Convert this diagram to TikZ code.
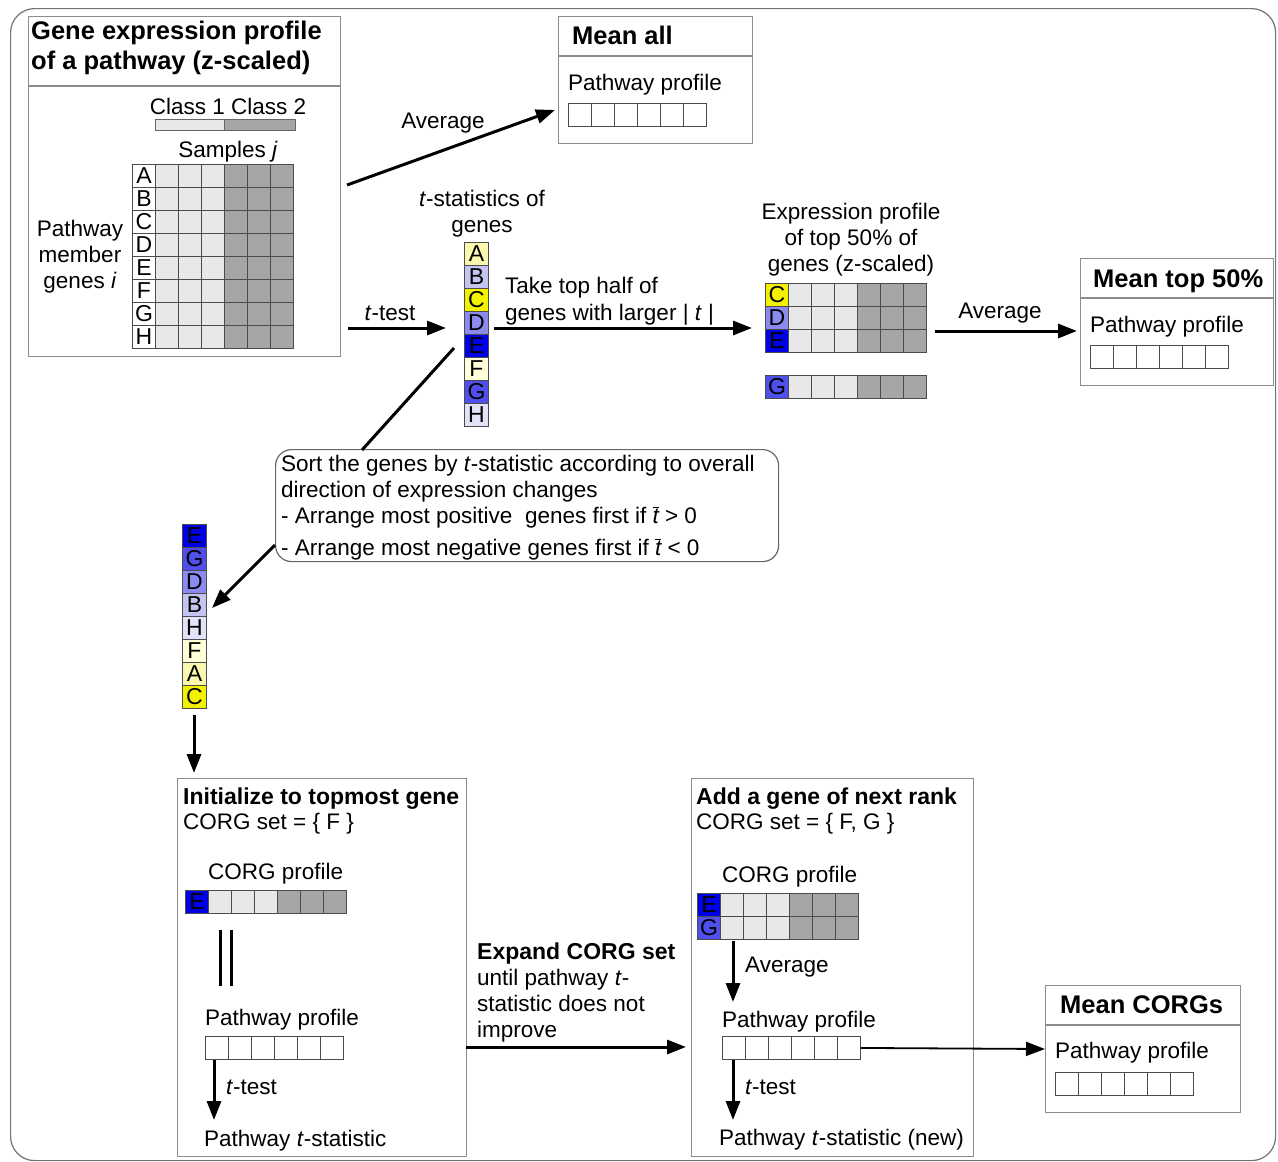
\documentclass[tikz,border=0pt]{standalone}
\usepackage{fontspec}
\setmainfont{Liberation Sans}
\usetikzlibrary{arrows.meta}
\definecolor{cA}{HTML}{FAF7AE}
\definecolor{cB}{HTML}{C4C4F2}
\definecolor{cC}{HTML}{F2F200}
\definecolor{cD}{HTML}{8A8AF0}
\definecolor{cE}{HTML}{0000E6}
\definecolor{cF}{HTML}{FFFFD9}
\definecolor{cG}{HTML}{4F4FEB}
\definecolor{cH}{HTML}{E2E2F8}
\definecolor{lite}{HTML}{E8E8E8}
\definecolor{dark}{HTML}{A6A6A6}
\definecolor{framec}{HTML}{8C8C8C}
\newcommand\profrow[3]{\foreach \c in {0,...,5}{\node[cell,fill=white] (#1\c) at ({#2+23*\c},#3) {};}}
\newcommand\generow[5]{%
  \node[cell,fill=#5] (#1) at (#2,#3) {#4};
  \foreach \c in {1,2,3}{\node[cell,fill=lite] (#1\c) at ({#2+23*\c},#3) {};}
  \foreach \c in {4,5,6}{\node[cell,fill=dark] (#1\c) at ({#2+23*\c},#3) {};}}
\newcommand\tbar{$\overline{\mbox{\itshape t}}$}
\begin{document}
\begin{tikzpicture}[x=1pt,y=-1pt,
  txt/.style={inner sep=0pt, anchor=base west, yshift=-8.5pt, font=\fontsize{22.5}{26}\selectfont},
  ctxt/.style={inner sep=0pt, align=center, yshift=-2pt, font=\fontsize{22.5}{26}\selectfont},
  ttl/.style={inner sep=0pt, anchor=base west, yshift=-9.5pt, font=\fontsize{25.5}{30}\selectfont\bfseries},
  sttl/.style={inner sep=0pt, anchor=base west, yshift=-8.5pt, font=\fontsize{23}{26}\selectfont\bfseries},
  frame/.style={draw=framec, line width=1.4pt},
  boxnode/.style={frame, inner sep=0pt, anchor=north west},
  cell/.style={draw=black!70, line width=0.9pt, minimum width=23pt, minimum height=23pt, inner sep=0pt, anchor=north west, font=\fontsize{23}{23}\selectfont},
  arr/.style={line width=3pt, -{Triangle[length=19pt,width=14pt]}},
  ln/.style={line width=3pt}]
\useasboundingbox (0,0) rectangle (1278,1162);
% outer frame
\node[draw=black!55, line width=1.2pt, rounded corners=24pt, minimum width=1265pt, minimum height=1152pt, inner sep=0pt, anchor=north west] (outer) at (10,8) {};

% ---------- Box 1: gene expression profile ----------
\node[boxnode, minimum width=312pt, minimum height=340pt] (box1) at (28,16) {};
\draw[frame] (28,86) -- (340,86);
\node[ttl] (t1a) at (31,30) {Gene expression profile};
\node[ttl] (t1b) at (31,60) {of a pathway (z-scaled)};
\node[ctxt] (cls) at (228,104) {Class 1 Class 2};
\node[draw=black!60, line width=0.9pt, fill=lite, minimum width=69pt, minimum height=11pt, inner sep=0pt, anchor=north west] (cl1) at (155,119) {};
\node[draw=black!60, line width=0.9pt, fill=dark, minimum width=71pt, minimum height=11pt, inner sep=0pt, anchor=north west] (cl2) at (224,119) {};
\node[ctxt] (smp) at (228,150) {Samples \textit{j}};
\node[ctxt] (pmg) at (80,255) {Pathway\\member\\genes \textit{i}};
\foreach \L [count=\i from 0] in {A,B,C,D,E,F,G,H}{
  \generow{m\L}{132}{164+23*\i}{\L}{white}
}

% ---------- Mean all ----------
\node[boxnode, minimum width=194pt, minimum height=127pt] (meanall) at (558,16) {};
\draw[frame] (558,56) -- (752,56);
\node[ttl] (tma) at (572,35) {Mean all};
\node[txt] (ppa) at (568,82) {Pathway profile};
\profrow{pa}{568}{103}

% Average arrow
\coordinate (avgS) at (347,185);
\coordinate (avgE) at (555,110);
\draw[arr] (avgS) -- (avgE);
\node[ctxt] (lavg1) at (443,121) {Average};

% ---------- t-statistics column ----------
\node[ctxt] (tst) at (482,212) {\textit{t}-statistics of\\genes};
\foreach \L/\col [count=\i from 0] in {A/cA,B/cB,C/cC,D/cD,E/cE,F/cF,G/cG,H/cH}{
  \node[cell, fill=\col, minimum width=24pt] (t\L) at (464,{242+23*\i}) {\L};
}
\coordinate (ttS) at (348,328);
\coordinate (ttE) at (446,328);
\draw[arr] (ttS) -- (ttE);
\node[ctxt] (lttest) at (390,311) {\textit{t}-test};

% Take top half
\coordinate (thS) at (494,328);
\coordinate (thE) at (752,328);
\draw[arr] (thS) -- (thE);
\node[txt] (th1) at (505,285) {Take top half of};
\node[txt] (th2) at (505,312) {genes with larger | \textit{t} |};

% ---------- Expression profile of top 50% ----------
\node[ctxt] (ep) at (851,238) {Expression profile\\of top 50\% of\\genes (z-scaled)};
\generow{eC}{765}{283}{C}{cC}
\generow{eD}{765}{306}{D}{cD}
\generow{eE}{765}{329}{E}{cE}
\generow{eG}{765}{375}{G}{cG}

% Average arrow to mean top 50%
\coordinate (av2S) at (935,331);
\coordinate (av2E) at (1077,331);
\draw[arr] (av2S) -- (av2E);
\node[ctxt] (lavg2) at (1000,311) {Average};

% ---------- Mean top 50% ----------
\node[boxnode, minimum width=193pt, minimum height=127pt] (meantop) at (1080,258) {};
\draw[frame] (1080,298) -- (1273,298);
\node[ttl] (tmt) at (1093,278) {Mean top 50\%};
\node[txt] (ppt) at (1090,324) {Pathway profile};
\profrow{pt}{1090}{345}

% ---------- Sort box ----------
\node[draw=black!60, line width=1.2pt, rounded corners=16pt, minimum width=503pt, minimum height=112pt, inner sep=0pt, anchor=north west] (sortb) at (275,449) {};
\node[txt] (s1) at (281,463) {Sort the genes by \textit{t}-statistic according to overall};
\node[txt] (s2) at (281,489) {direction of expression changes};
\node[txt] (s3) at (281,515) {- Arrange most positive\ \ genes first if \tbar{} > 0};
\node[txt] (s4) at (281,547) {- Arrange most negative genes first if \tbar{} < 0};
\coordinate (cS) at (454,348);
\coordinate (cE) at (362,450);
\draw[ln] (cS) -- (cE);
\coordinate (srtS) at (275,545);
\coordinate (srtE) at (212,608);
\draw[arr] (srtS) -- (srtE);

% ---------- Sorted column ----------
\foreach \L/\col [count=\i from 0] in {E/cE,G/cG,D/cD,B/cB,H/cH,F/cF,A/cA,C/cC}{
  \node[cell, fill=\col, minimum width=24pt] (r\L) at (182,{524+23*\i}) {\L};
}
\coordinate (initS) at (194,715);
\coordinate (initE) at (194,773);
\draw[arr] (initS) -- (initE);

% ---------- Initialize box ----------
\node[boxnode, minimum width=289pt, minimum height=378pt] (initb) at (177,778) {};
\node[sttl] (ti) at (183,796) {Initialize to topmost gene};
\node[txt] (ci) at (183,821) {CORG set = \{ F \}};
\node[txt] (cpi) at (208,871) {CORG profile};
\generow{iE}{185}{890}{E}{cE}
\coordinate (dl1a) at (220,930); \coordinate (dl1b) at (220,986);
\coordinate (dl2a) at (231,930); \coordinate (dl2b) at (231,986);
\draw[ln] (dl1a) -- (dl1b);
\draw[ln] (dl2a) -- (dl2b);
\node[txt] (ppi) at (205,1017) {Pathway profile};
\profrow{pi}{205}{1036}
\coordinate (ti1S) at (214,1060);
\coordinate (ti1E) at (214,1120);
\draw[arr] (ti1S) -- (ti1E);
\node[txt] (lti1) at (226,1086) {\textit{t}-test};
\node[txt] (psi) at (204,1138) {Pathway \textit{t}-statistic};

% Expand arrow
\coordinate (exS) at (466,1047);
\coordinate (exE) at (686,1047);
\draw[arr] (exS) -- (exE);
\node[sttl] (ex1) at (477,951) {Expand CORG set};
\node[txt] (ex2) at (477,977) {until pathway \textit{t}-};
\node[txt] (ex3) at (477,1003) {statistic does not};
\node[txt] (ex4) at (477,1029) {improve};

% ---------- Add box ----------
\node[boxnode, minimum width=282pt, minimum height=378pt] (addb) at (691,778) {};
\node[sttl] (ta) at (696,796) {Add a gene of next rank};
\node[txt] (ca) at (696,821) {CORG set = \{ F, G \}};
\node[txt] (cpa) at (722,874) {CORG profile};
\generow{aE}{697}{893}{E}{cE}
\generow{aG}{697}{916}{G}{cG}
\coordinate (av3S) at (733,941);
\coordinate (av3E) at (733,1002);
\draw[arr] (av3S) -- (av3E);
\node[txt] (lav3) at (745,964) {Average};
\node[txt] (ppa2) at (722,1019) {Pathway profile};
\profrow{pq}{722}{1036}
\coordinate (ta2S) at (733,1060);
\coordinate (ta2E) at (733,1120);
\draw[arr] (ta2S) -- (ta2E);
\node[txt] (lta2) at (745,1086) {\textit{t}-test};
\node[txt] (psa) at (719,1137) {Pathway \textit{t}-statistic (new)};

% ---------- Mean CORGs ----------
\node[boxnode, minimum width=195pt, minimum height=127pt] (meancorg) at (1045,985) {};
\draw[frame] (1045,1025) -- (1240,1025);
\node[ttl] (tmc) at (1060,1004) {Mean CORGs};
\node[txt] (ppc) at (1055,1050) {Pathway profile};
\profrow{pc}{1055}{1072}
\draw[line width=1.8pt, -{Triangle[length=19pt,width=14pt]}] (pq5.east) -- (meancorg.west |- 0,1049);
\end{tikzpicture}
\end{document}
